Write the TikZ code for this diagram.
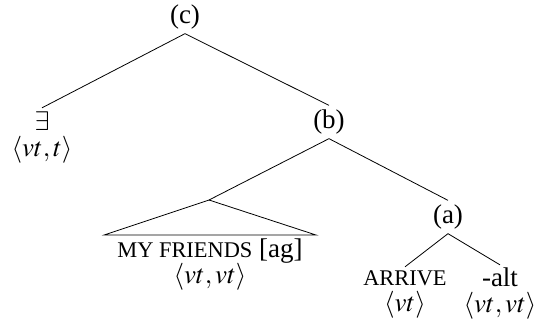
\documentclass[tikz,border=0pt]{standalone}
\usepackage{mathptmx}
\usepackage{fontspec}
\setmainfont{Liberation Serif}
\newfontfamily\tnr{Liberation Serif}
\usetikzlibrary{positioning}

\newcommand{\smc}[1]{{\fontsize{11.2}{13}\selectfont #1}}

\begin{document}
\begin{tikzpicture}[x=0.5pt,y=-0.5pt,
    every node/.style={font=\tnr\fontsize{13.5}{13}\selectfont,align=center,inner sep=1.5pt},
    lbl/.style={inner sep=2pt}]

    \useasboundingbox (0,0) rectangle (537,328);

    \node[lbl] (c) at (185,17) {(c)};
    \node (ex) at (42,137) {$\exists$\\$\langle vt,t\rangle$};
    \node[lbl] (b) at (329,122) {(b)};
    \node[lbl] (a) at (448,217) {(a)};
    \node (mf) at (210,265) {\smc{MY FRIENDS} [ag]\\$\langle vt,vt\rangle$};
    \node (arr) at (405,294) {\smc{ARRIVE}\\$\langle vt\rangle$};
    \node (alt) at (500,294) {-alt\\$\langle vt,vt\rangle$};

    \coordinate (top) at (209,200);
    \coordinate (bl) at (104,235);
    \coordinate (br) at (316,235);

	\draw[] (c.south) -- (ex.north);
	\draw[] (c.south) -- (b.north);
	\draw[] (b.south) -- (top);
	\draw[] (b.south) -- (a.north);
	\draw[] (top) -- (bl) -- (br) -- cycle;
	\draw[] (a.south) -- (arr.north);
	\draw[] (a.south) -- (alt.north);
  \end{tikzpicture}
\end{document}
